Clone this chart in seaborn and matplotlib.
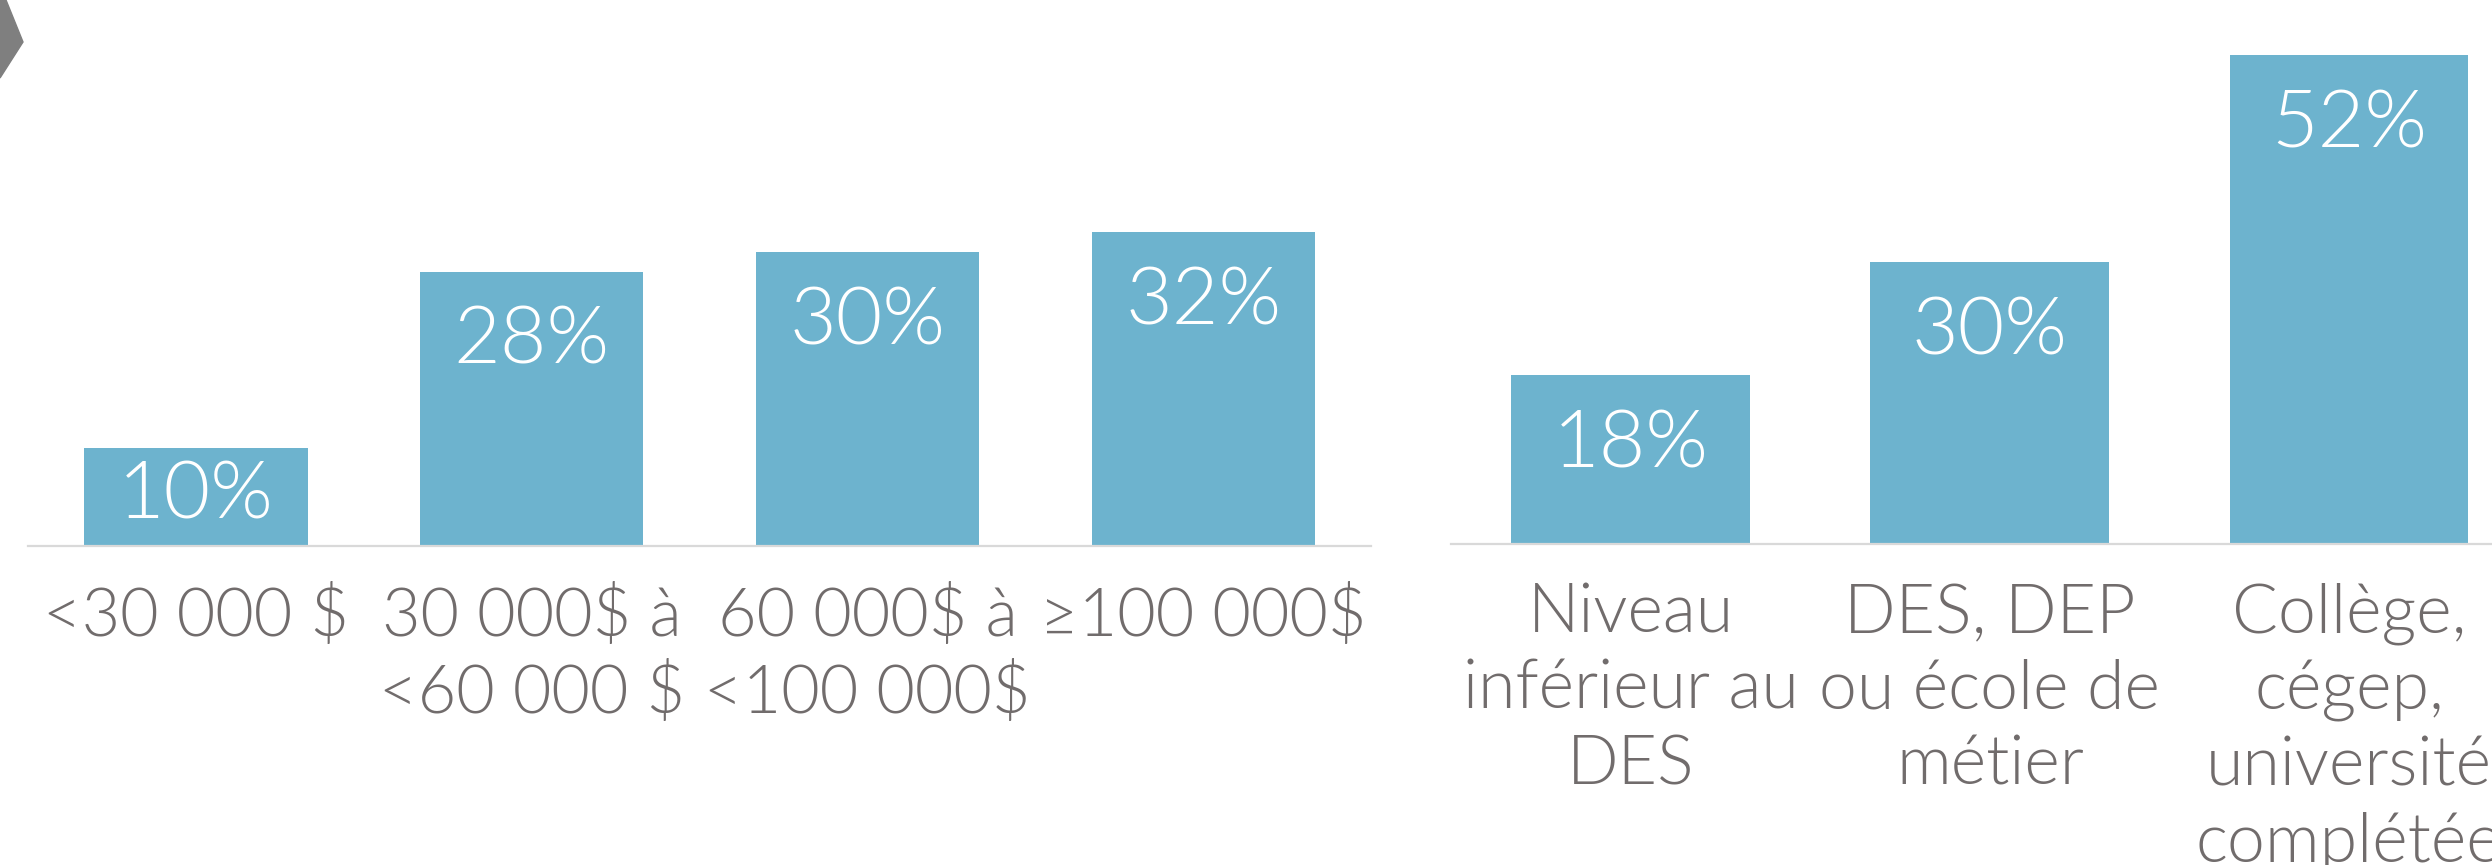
import seaborn as sns
import pandas as pd
from matplotlib import pyplot as plt
from matplotlib.patches import Polygon

# revenu du ménage
revenu = ['<30 000 $', '30 000$ à\n<60 000 $', '60 000$ à\n<100 000$', '≥100 000$']
revenu_pct = [10, 28, 30, 32]

# scolarité
scolarite = ['Niveau\ninférieur au\nDES', 'DES, DEP\nou école de\nmétier',
             'Collège,\ncégep,\nuniversité\ncomplétée']
scolarite_pct = [18, 30, 52]

bleu = '#6db3ce'
gris = '#716c6c'
ligne = '#d9d9d9'

sns.set_theme(style="white")
plt.rcParams['font.family'] = ['Lato', 'DejaVu Sans']

fig = plt.figure(figsize=(24.92, 8.65), dpi=100)
ax1 = fig.add_axes([0.01124, 0.3688, 0.5390, 0.6312])
ax2 = fig.add_axes([0.5823, 0.3711, 0.4324, 0.6289])


def draw(ax, cats, vals, ymax, fs):
    df = pd.DataFrame({'cat': cats, 'pct': vals})
    sns.barplot(data=df, x='cat', y='pct', color=bleu, saturation=1,
                width=0.665, edgecolor='none', ax=ax)
    ax.set_xlim(-0.5, len(cats) - 0.5)
    ax.set_ylim(0, ymax)
    ax.set_xlabel('')
    ax.set_ylabel('')
    ax.set_yticks([])
    for s in ['top', 'right', 'left']:
        ax.spines[s].set_visible(False)
    ax.spines['bottom'].set_color(ligne)
    ax.spines['bottom'].set_linewidth(1.6)
    ax.tick_params(axis='x', length=0, pad=28, labelsize=fs, labelcolor=gris)
    for lab in ax.get_xticklabels():
        lab.set_multialignment('center')
        lab.set_linespacing(1.28)
        lab.set_fontweight(300)
    for i, v in enumerate(vals):
        # les petites barres : étiquette plus haute
        off = -24 if v > 15 else -8
        ax.annotate(f'{v}%', (i, v), xytext=(0, off), textcoords='offset points',
                    ha='center', va='top', color='white', fontsize=58,
                    fontweight=300)
    ax.patch.set_alpha(0)


draw(ax1, revenu, revenu_pct, 55.7, 48)
draw(ax2, scolarite, scolarite_pct, 57.9, 49)

# petite flèche grise en haut à gauche
fig.patches.append(Polygon([[0, 865], [6, 865], [23, 823], [0, 787]],
                           closed=True, transform=None, color='#7f7f7f',
                           figure=fig))

fig.savefig('out.png', dpi=100)
plt.close(fig)
